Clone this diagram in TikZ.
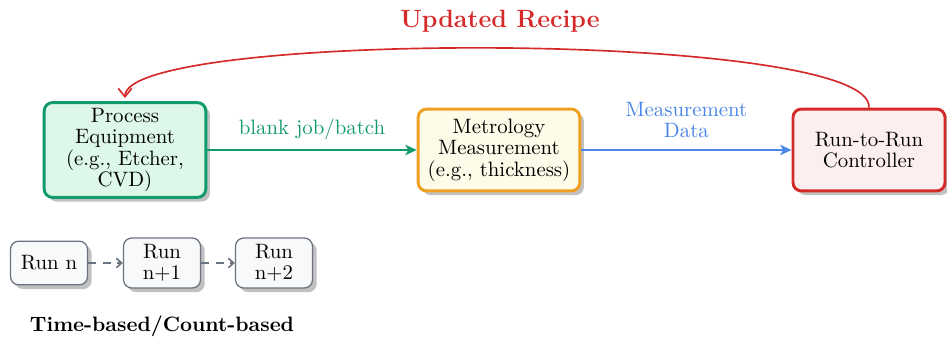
\documentclass[tikz,border=0pt]{standalone}
\usetikzlibrary{arrows.meta,shadows}
\definecolor{pgreen}{HTML}{119A6C}
\definecolor{pgreenfill}{HTML}{DDF8E9}
\definecolor{morange}{HTML}{F0A020}
\definecolor{morangefill}{HTML}{FEFBE8}
\definecolor{cred}{HTML}{D42A2A}
\definecolor{credfill}{HTML}{FDEFEF}
\definecolor{dblue}{HTML}{4A86E8}
\definecolor{rgray}{HTML}{6B7280}
\definecolor{rgrayfill}{HTML}{F8F9FA}
\begin{document}
\begin{tikzpicture}[x=0.01687cm,y=-0.01687cm,
  font=\fontsize{10}{10.3}\selectfont,
  mainbox/.style={draw, line width=1.4pt, rounded corners=4pt, align=center, inner sep=2pt,
     drop shadow={shadow xshift=2pt,shadow yshift=-2pt,fill=black!30,opacity=0.8}},
  runbox/.style={draw=rgray, fill=rgrayfill, line width=0.6pt, rounded corners=4pt, align=center,
     minimum width=37pt, inner sep=2pt,
     drop shadow={shadow xshift=2pt,shadow yshift=-2pt,fill=black!30,opacity=0.8}},
  flow/.style={line width=0.8pt, -{Stealth[length=5.5pt,width=5pt,inset=1.5pt]}},
  runflow/.style={rgray, line width=0.8pt, dash pattern=on 4pt off 3pt, -{Straight Barb[length=2.5pt,width=4.5pt]}}
]
\useasboundingbox (0,0) rectangle (947,338);
\node[mainbox, draw=pgreen, fill=pgreenfill, minimum width=77.6pt, minimum height=45.5pt] (proc) at (125,150)
  {Process\\Equipment\\(e.g., Etcher,\\CVD)};
\node[mainbox, draw=morange, fill=morangefill, minimum width=77.6pt, minimum height=39.3pt] (metro) at (499,150)
  {Metrology\\Measurement\\(e.g., thickness)};
\node[mainbox, draw=cred, fill=credfill, minimum width=73pt, minimum height=39.3pt] (ctrl) at (869,150)
  {Run-to-Run\\Controller};
\draw[flow, pgreen] (proc.east) -- node[above=1pt, text=pgreen] (lab1) {blank job/batch} (metro.west);
\draw[flow, dblue] (metro.east) -- node[above=2pt, align=center, text=dblue] (lab2) {Measurement\\Data} (ctrl.west);
\draw[cred, line width=0.8pt, -{Straight Barb[length=4pt,width=6.5pt]}]
  (ctrl.north) .. controls (874,30) and (125,30) .. ([yshift=1.5pt]proc.north);
\node[text=cred, font=\large\bfseries] (title) at (500,21) {Updated Recipe};
\node[runbox, minimum height=21pt] (r1) at (49,263) {Run n};
\node[runbox, minimum height=24pt] (r2) at (162,263) {Run\\n+1};
\node[runbox, minimum height=24pt] (r3) at (274,263) {Run\\n+2};
\draw[runflow] (r1.east) -- (r2.west);
\draw[runflow] (r2.east) -- (r3.west);
\node[font=\bfseries] (tb) at (162,326) {Time-based/Count-based};
\end{tikzpicture}
\end{document}
